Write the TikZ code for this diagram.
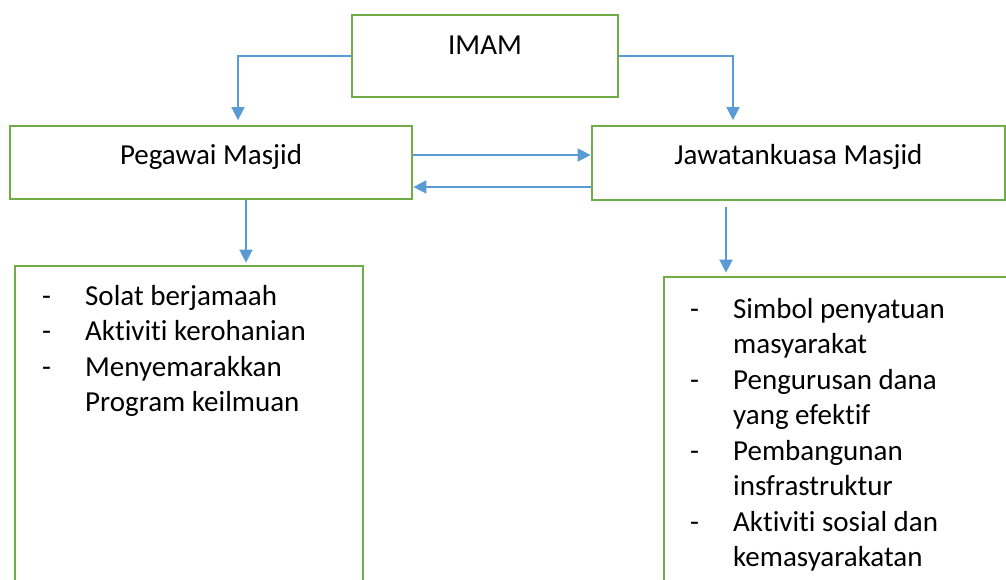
\documentclass[tikz,border=0pt]{standalone}
\usepackage{fontspec}
\setmainfont{Carlito}[Ligatures=NoCommon]
\usetikzlibrary{arrows.meta}
\definecolor{boxgreen}{HTML}{70AD47}
\definecolor{arrowblue}{HTML}{5B9BD5}

\begin{document}
\begin{tikzpicture}[x=1pt,y=-1pt,
    kotak/.style={draw=boxgreen,line width=2.7pt,inner sep=0pt,font=\fontsize{29}{35.5}\selectfont,text height=20pt,text depth=16.5pt},
    panah/.style={draw=arrowblue,line width=1.5pt,-{Triangle[length=13pt,width=13pt]}},
    senarai/.style={inner sep=0pt,anchor=base west,font=\fontsize{29}{35.5}\selectfont}]
    \useasboundingbox[fill=white] (0,0) rectangle (1006,579);
    \node (imam) at (485,56) [kotak,minimum width=266pt,minimum height=82pt,text depth=24pt] {IMAM};
    \node (pegawai) at (211,162.5) [kotak,minimum width=402pt,minimum height=73pt] {Pegawai Masjid};
    \node (jawatan) at (798.5,163) [kotak,minimum width=413pt,minimum height=74pt] {Jawatankuasa Masjid};
    \node (tugaspeg) at (189,443) [kotak,minimum width=348pt,minimum height=354pt] {};
    \node (tugasjaw) at (852,448.5) [kotak,minimum width=376pt,minimum height=343pt] {};
    \node (senaraipeg) at (42,305) [senarai] {\begin{tabular}[t]{@{}p{43pt}@{}l@{}}
        - & Solat berjamaah\\
        - & Aktiviti kerohanian\\
        - & Menyemarakkan\\
          & Program keilmuan
      \end{tabular}};
    \node (senaraijaw) at (690,318) [senarai] {\begin{tabular}[t]{@{}p{43pt}@{}l@{}}
        - & Simbol penyatuan\\
          & masyarakat\\
        - & Pengurusan dana\\
          & yang efektif\\
        - & Pembangunan\\
          & insfrastruktur\\
        - & Aktiviti sosial dan\\
          & kemasyarakatan
      \end{tabular}};
    \draw[panah,shorten >=4.5pt] (imam.west) -| ([xshift=27pt]pegawai.north);
    \draw[panah,shorten >=4.5pt] (imam.east) -| ([xshift=-65.5pt]jawatan.north);
    \draw[panah] ([yshift=7.5pt]pegawai.east) -- ([yshift=7.5pt]pegawai.east -| jawatan.west);
    \draw[panah] ([yshift=-24.5pt]pegawai.east -| jawatan.west) -- ([yshift=-24.5pt]pegawai.east);
    \draw[panah,shorten >=2pt] ([xshift=35pt]pegawai.south) -- ([xshift=35pt]pegawai.south |- tugaspeg.north);
    \draw[panah,shorten <=6pt,shorten >=3pt] ([xshift=-72.5pt]jawatan.south) -- ([xshift=-72.5pt]jawatan.south |- tugasjaw.north);
\end{tikzpicture}
\end{document}
